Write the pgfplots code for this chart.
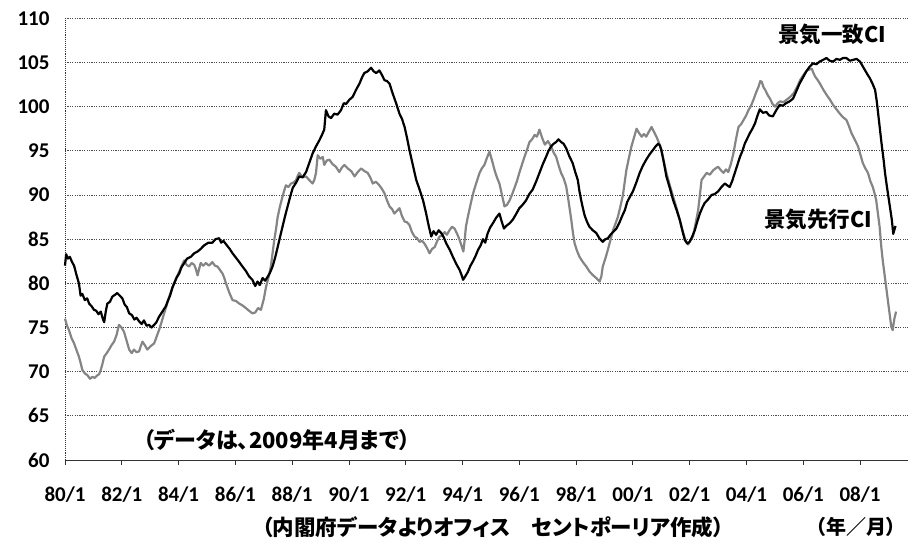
\documentclass[border=0pt]{standalone}
\usepackage{pgfplots}
\pgfplotsset{compat=1.18}
\usepackage{fontspec}
\setmainfont{Carlito}
\newfontfamily\jp{Noto Sans CJK JP}[RawFeature=+palt]

\pgfplotstableread{
x y
1980.00 82.0
1980.04 83.3
1980.10 82.8
1980.17 83.0
1980.25 82.4
1980.32 82.0
1980.40 81.0
1980.49 80.0
1980.55 78.6
1980.61 78.8
1980.70 78.1
1980.78 78.3
1980.85 77.7
1980.94 77.4
1981.02 77.0
1981.10 76.9
1981.18 76.5
1981.26 76.8
1981.33 76.0
1981.38 75.6
1981.44 76.9
1981.49 77.7
1981.58 77.9
1981.67 78.5
1981.76 78.7
1981.84 78.9
1981.93 78.6
1982.02 78.3
1982.10 77.6
1982.18 77.3
1982.26 76.6
1982.36 76.4
1982.44 75.9
1982.52 76.1
1982.61 75.7
1982.70 75.4
1982.78 75.8
1982.87 75.2
1982.96 75.3
1983.05 75.0
1983.14 75.3
1983.22 75.6
1983.31 76.2
1983.43 76.8
1983.55 77.4
1983.62 78.0
1983.70 78.6
1983.78 79.5
1983.86 80.1
1983.94 80.7
1984.02 81.1
1984.10 81.8
1984.20 82.3
1984.30 82.8
1984.43 83.0
1984.55 83.4
1984.67 83.6
1984.78 83.9
1984.90 84.3
1985.05 84.6
1985.19 84.6
1985.30 85.0
1985.43 85.1
1985.50 84.6
1985.58 84.8
1985.70 84.3
1985.80 83.9
1985.90 83.4
1986.02 82.9
1986.14 82.4
1986.25 81.9
1986.37 81.4
1986.48 80.8
1986.60 80.4
1986.70 79.7
1986.78 80.2
1986.86 79.8
1986.96 80.6
1987.05 80.3
1987.13 80.7
1987.22 81.2
1987.31 81.9
1987.40 82.9
1987.49 84.1
1987.57 85.2
1987.66 86.4
1987.75 87.6
1987.84 88.7
1987.93 89.8
1988.02 90.8
1988.14 91.4
1988.25 92.1
1988.37 92.0
1988.49 92.6
1988.60 93.6
1988.72 94.7
1988.84 95.5
1988.96 96.2
1989.05 96.8
1989.13 97.4
1989.19 99.6
1989.28 98.9
1989.37 98.7
1989.48 99.2
1989.60 99.1
1989.72 99.6
1989.82 100.4
1989.90 100.3
1990.02 100.8
1990.13 101.1
1990.25 101.9
1990.37 102.6
1990.46 103.3
1990.54 103.8
1990.66 104.0
1990.78 104.4
1990.87 104.0
1990.96 103.8
1991.07 104.1
1991.16 103.6
1991.25 103.0
1991.34 102.9
1991.43 102.6
1991.54 101.5
1991.66 100.4
1991.78 99.2
1991.87 98.6
1991.96 97.7
1992.05 96.4
1992.13 95.1
1992.25 93.4
1992.37 91.7
1992.49 90.6
1992.61 89.4
1992.72 87.9
1992.81 86.5
1992.90 85.3
1992.98 85.9
1993.07 85.5
1993.16 86.0
1993.25 85.7
1993.34 85.2
1993.43 84.5
1993.55 83.8
1993.66 83.0
1993.78 82.2
1993.90 81.5
1993.96 81.0
1994.02 80.4
1994.10 80.8
1994.19 81.3
1994.28 82.0
1994.37 82.5
1994.46 83.1
1994.55 83.8
1994.64 84.3
1994.72 85.0
1994.80 84.6
1994.88 85.6
1994.97 86.3
1995.07 86.8
1995.18 87.4
1995.30 87.9
1995.38 87.0
1995.46 86.2
1995.54 86.5
1995.66 86.8
1995.77 87.2
1995.88 87.8
1996.00 88.5
1996.12 88.9
1996.24 89.4
1996.35 90.1
1996.47 90.6
1996.59 91.5
1996.71 92.5
1996.83 93.5
1996.94 94.3
1997.03 95.0
1997.12 95.5
1997.21 95.8
1997.30 96.0
1997.38 96.3
1997.47 96.0
1997.56 95.8
1997.65 95.3
1997.76 94.4
1997.88 93.6
1997.97 92.6
1998.06 91.7
1998.12 90.4
1998.18 89.4
1998.24 88.5
1998.30 87.7
1998.38 87.0
1998.47 86.4
1998.59 86.0
1998.71 85.7
1998.82 85.1
1998.94 84.7
1999.03 85.0
1999.12 85.1
1999.21 85.5
1999.30 85.8
1999.42 86.2
1999.53 86.9
1999.62 87.6
1999.72 88.3
1999.80 89.2
1999.88 89.7
2000.00 90.4
2000.12 91.4
2000.24 92.5
2000.35 93.3
2000.47 94.0
2000.59 94.6
2000.71 95.1
2000.80 95.5
2000.89 95.8
2000.95 95.6
2001.00 95.1
2001.09 93.7
2001.18 92.1
2001.30 90.8
2001.42 89.4
2001.54 88.3
2001.65 87.2
2001.74 86.0
2001.83 84.9
2001.92 84.5
2002.00 84.7
2002.09 85.3
2002.18 86.0
2002.27 87.0
2002.36 87.9
2002.45 88.6
2002.53 89.1
2002.65 89.5
2002.77 90.0
2002.88 90.1
2003.00 90.4
2003.12 90.9
2003.24 91.3
2003.32 91.1
2003.41 90.9
2003.50 91.6
2003.59 92.5
2003.68 93.4
2003.77 94.3
2003.86 95.0
2003.94 95.8
2004.03 96.4
2004.12 97.0
2004.21 97.5
2004.30 98.1
2004.38 98.9
2004.47 99.7
2004.58 99.3
2004.70 99.4
2004.80 99.0
2004.93 98.9
2005.05 99.6
2005.17 100.2
2005.28 100.1
2005.40 100.4
2005.52 100.6
2005.64 100.9
2005.75 101.7
2005.87 102.6
2005.99 103.3
2006.11 104.0
2006.22 104.5
2006.34 104.9
2006.46 104.8
2006.58 105.1
2006.70 105.3
2006.82 105.5
2006.93 105.2
2007.05 105.1
2007.17 105.4
2007.29 105.3
2007.40 105.5
2007.52 105.5
2007.64 105.2
2007.76 105.3
2007.88 105.4
2008.00 105.1
2008.09 104.6
2008.18 104.1
2008.27 103.6
2008.35 103.2
2008.44 102.6
2008.53 101.9
2008.59 100.6
2008.65 98.9
2008.71 97.2
2008.77 95.5
2008.83 94.0
2008.88 92.5
2008.94 91.1
2009.00 89.8
2009.06 88.5
2009.12 87.2
2009.17 85.6
2009.25 86.5
}\coinc

\pgfplotstableread{
x y
1980.00 76.0
1980.07 75.2
1980.14 74.7
1980.23 73.8
1980.32 73.2
1980.41 72.4
1980.49 71.7
1980.55 71.0
1980.61 70.2
1980.70 69.8
1980.79 69.6
1980.88 69.2
1980.96 69.4
1981.05 69.3
1981.14 69.6
1981.20 69.7
1981.26 70.2
1981.32 70.9
1981.38 71.7
1981.47 72.1
1981.55 72.5
1981.64 73.0
1981.73 73.4
1981.82 74.2
1981.90 75.3
1981.99 75.0
1982.08 74.5
1982.17 73.5
1982.26 72.5
1982.35 72.1
1982.43 72.5
1982.52 72.2
1982.61 72.3
1982.67 72.9
1982.73 73.4
1982.81 73.0
1982.90 72.5
1983.02 72.9
1983.14 73.2
1983.22 73.9
1983.31 74.7
1983.40 75.6
1983.49 76.6
1983.58 77.5
1983.67 78.5
1983.76 79.3
1983.84 80.0
1983.93 80.7
1984.02 81.3
1984.11 82.0
1984.20 82.6
1984.28 82.1
1984.37 81.9
1984.46 82.3
1984.55 82.1
1984.61 81.6
1984.67 80.9
1984.73 81.7
1984.78 82.3
1984.87 82.0
1984.96 82.3
1985.07 82.0
1985.19 82.4
1985.28 82.0
1985.37 81.9
1985.46 81.5
1985.55 81.1
1985.61 80.6
1985.67 80.0
1985.78 79.0
1985.90 78.1
1986.02 78.0
1986.14 77.7
1986.25 77.5
1986.37 77.2
1986.48 76.9
1986.60 76.6
1986.70 76.7
1986.80 77.2
1986.90 77.0
1987.00 78.2
1987.08 79.6
1987.17 80.7
1987.25 81.9
1987.31 83.4
1987.37 84.9
1987.43 86.1
1987.49 87.5
1987.57 88.7
1987.66 89.8
1987.72 90.5
1987.78 91.1
1987.87 90.9
1987.96 91.3
1988.05 91.4
1988.14 91.7
1988.20 92.2
1988.25 92.5
1988.37 92.0
1988.49 92.1
1988.60 91.7
1988.72 91.3
1988.78 91.7
1988.84 92.5
1988.90 94.5
1988.99 94.1
1989.08 94.3
1989.13 93.4
1989.22 93.9
1989.31 94.0
1989.42 93.5
1989.54 93.2
1989.60 92.9
1989.66 92.6
1989.75 93.1
1989.84 93.4
1989.96 93.0
1990.08 92.7
1990.20 92.1
1990.31 92.6
1990.43 93.0
1990.55 92.7
1990.66 92.5
1990.75 92.0
1990.84 91.3
1990.95 91.5
1991.07 91.1
1991.16 90.7
1991.25 90.2
1991.34 89.4
1991.43 88.7
1991.52 88.4
1991.60 87.9
1991.69 88.2
1991.78 88.5
1991.87 87.6
1991.96 87.0
1992.05 86.9
1992.13 86.6
1992.22 85.8
1992.31 85.3
1992.40 85.1
1992.49 84.7
1992.58 84.8
1992.66 84.5
1992.75 84.0
1992.84 83.4
1992.93 83.9
1993.02 84.1
1993.11 84.8
1993.19 85.3
1993.28 85.4
1993.37 85.8
1993.45 85.5
1993.54 86.0
1993.63 86.4
1993.72 86.2
1993.81 85.6
1993.90 84.9
1993.97 84.2
1994.03 83.6
1994.08 85.0
1994.12 86.4
1994.18 87.4
1994.24 88.3
1994.33 89.6
1994.41 90.6
1994.50 91.5
1994.60 92.5
1994.68 93.0
1994.77 93.4
1994.86 94.2
1994.95 94.9
1995.04 93.9
1995.13 92.8
1995.21 92.0
1995.30 91.3
1995.39 90.0
1995.48 88.7
1995.57 88.9
1995.66 89.4
1995.75 90.1
1995.83 90.8
1995.92 91.6
1996.00 92.5
1996.09 93.4
1996.18 94.3
1996.27 95.1
1996.36 96.0
1996.45 96.3
1996.54 96.8
1996.62 96.6
1996.71 97.4
1996.80 96.5
1996.90 95.7
1997.01 96.1
1997.12 95.5
1997.21 94.8
1997.30 94.3
1997.38 93.4
1997.47 92.5
1997.56 91.9
1997.65 91.0
1997.74 89.2
1997.83 87.2
1997.89 85.7
1997.95 84.5
1998.03 83.7
1998.12 83.0
1998.24 82.4
1998.36 81.9
1998.48 81.3
1998.60 80.9
1998.71 80.6
1998.83 80.2
1998.89 80.8
1998.94 81.9
1999.03 82.8
1999.12 83.8
1999.21 84.9
1999.30 86.0
1999.38 86.7
1999.47 87.5
1999.56 88.7
1999.65 90.0
1999.71 91.4
1999.77 92.8
1999.86 94.2
1999.95 95.5
2000.04 96.5
2000.13 97.5
2000.22 97.0
2000.31 96.6
2000.39 96.9
2000.47 96.6
2000.57 97.2
2000.66 97.7
2000.75 97.1
2000.83 96.6
2000.92 95.9
2001.01 95.1
2001.09 93.8
2001.18 92.5
2001.30 91.1
2001.42 89.8
2001.54 88.5
2001.65 87.2
2001.74 86.1
2001.83 85.1
2001.89 84.6
2001.95 84.4
2002.03 84.9
2002.12 85.3
2002.21 86.8
2002.30 88.3
2002.36 90.0
2002.42 91.7
2002.51 92.1
2002.60 92.5
2002.71 92.3
2002.83 92.8
2002.91 93.0
2003.00 93.2
2003.10 92.8
2003.19 92.5
2003.28 92.9
2003.36 92.6
2003.45 93.5
2003.54 94.7
2003.63 96.3
2003.72 97.7
2003.81 98.0
2003.90 98.5
2003.99 99.0
2004.07 99.6
2004.16 100.1
2004.25 100.8
2004.34 101.6
2004.43 102.3
2004.49 102.9
2004.54 102.8
2004.60 102.2
2004.66 101.9
2004.75 101.3
2004.83 100.9
2004.92 100.3
2005.01 100.0
2005.10 100.4
2005.19 100.6
2005.30 100.5
2005.42 100.8
2005.54 101.1
2005.66 101.5
2005.78 102.2
2005.89 103.0
2006.01 103.6
2006.13 104.1
2006.22 104.2
2006.30 104.3
2006.36 103.8
2006.42 103.4
2006.51 103.0
2006.59 102.6
2006.71 101.9
2006.83 101.3
2006.94 100.8
2007.05 100.2
2007.17 99.7
2007.29 99.2
2007.40 98.8
2007.52 98.5
2007.61 97.8
2007.70 97.0
2007.81 96.3
2007.93 95.5
2008.02 94.5
2008.10 93.6
2008.19 93.0
2008.28 92.5
2008.36 91.6
2008.45 90.9
2008.51 90.2
2008.57 89.4
2008.63 87.9
2008.69 86.4
2008.75 84.1
2008.80 82.6
2008.86 81.1
2008.92 79.6
2008.98 78.1
2009.04 76.6
2009.10 75.1
2009.15 74.7
2009.21 76.0
2009.27 76.8
}\lead

\begin{document}
\begin{tikzpicture}[x=1pt,y=1pt]
\useasboundingbox (0,0) rectangle (910,542);
\begin{axis}[
  at={(65pt,82pt)}, anchor=south west,
  scale only axis, width=843pt, height=441.7pt,
  xmin=1980, xmax=2009.69, ymin=60, ymax=110,
  ytick={60,65,...,110},
  xtick={1980,1982,...,2008},
  xticklabels={80/1,82/1,84/1,86/1,88/1,90/1,92/1,94/1,96/1,98/1,00/1,02/1,04/1,06/1,08/1},
  axis x line*=bottom, axis y line*=left,
  x axis line style={-, black!80, line width=1pt},
  y axis line style={-, black!80, densely dotted, line width=0.9pt},
  xtick align=outside,
  major tick length=5pt,
  xtick style={black!80, line width=0.8pt},
  ytick style={draw=none},
  ymajorgrids,
  major grid style={black!70, dash pattern=on 1.2pt off 1.2pt, line width=0.8pt},
  /pgf/number format/assume math mode=true,
  ticklabel style={font=\fontsize{21}{21}\selectfont\bfseries},
  yticklabel style={xshift=-12pt},
  xticklabel style={yshift=-18pt},
  clip=false,
]
\addplot[black!48, line width=2.2pt, line join=round] table[x=x,y=y] {\lead};
\addplot[black, line width=2.2pt, line join=round] table[x=x,y=y] {\coinc};
\end{axis}
\node[font=\jp\bfseries\fontsize{21.5}{22}\selectfont] at (832,508) {景気一致CI};
\node[font=\jp\bfseries\fontsize{21.5}{22}\selectfont] at (818,323) {景気先行CI};
\node[font=\jp\bfseries\fontsize{22}{22}\selectfont] at (277,102) {（データは、2009年4月まで）};
\node[font=\jp\bfseries\fontsize{21.5}{22}\selectfont] at (493,15) {（内閣府データよりオフィス　セントポーリア作成）};
\node[font=\jp\bfseries\fontsize{20}{20}\selectfont] at (856,15) {（年／月）};
\end{tikzpicture}
\end{document}
